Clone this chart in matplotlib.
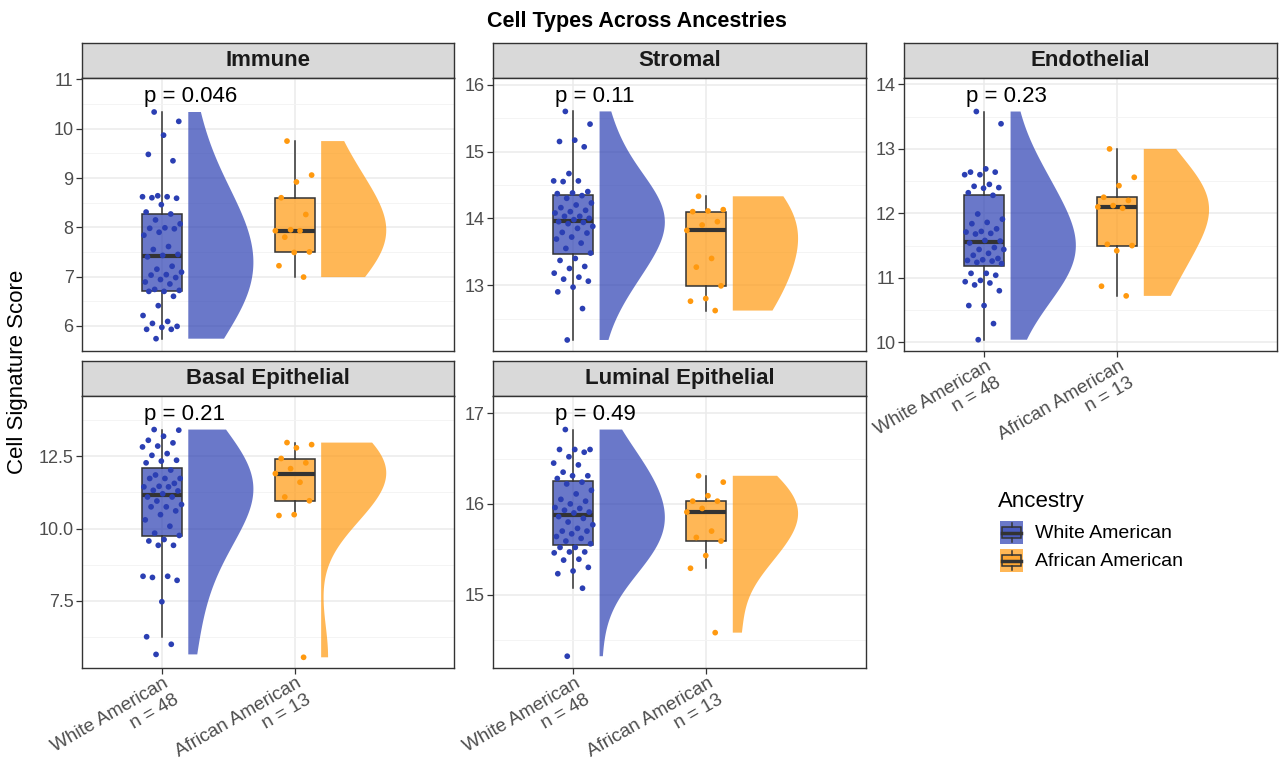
import matplotlib.pyplot as plt
import numpy as np
from matplotlib.colors import to_rgb
from matplotlib.patches import Rectangle
from matplotlib.lines import Line2D
from matplotlib.ticker import AutoMinorLocator, FormatStrFormatter
from matplotlib.transforms import blended_transform_factory

plt.rcParams['font.family'] = ['Liberation Sans', 'DejaVu Sans']

# ---- data ----
groups = ["White American", "African American"]
group_n = [48, 13]
panel_names = ["Immune", "Stromal", "Endothelial", "Basal Epithelial", "Luminal Epithelial"]
p_labels = ["p = 0.046", "p = 0.11", "p = 0.23", "p = 0.21", "p = 0.49"]

immune_white = [10.34, 10.15, 9.87, 9.48, 9.35, 8.64, 8.62, 8.62, 8.60, 8.59, 8.46, 8.31,
                8.27, 8.15, 8.07, 7.99, 7.98, 7.97, 7.90, 7.84, 7.61, 7.55, 7.45, 7.43,
                7.40, 7.21, 7.15, 7.09, 7.04, 7.03, 6.98, 6.94, 6.89, 6.85, 6.74, 6.72,
                6.70, 6.70, 6.60, 6.41, 6.21, 6.09, 6.05, 5.99, 5.97, 5.93, 5.93, 5.74]
immune_african = [9.75, 9.06, 8.92, 8.60, 8.26, 7.95, 7.93, 7.93, 7.80, 7.50, 7.49, 7.22, 6.99]

stromal_white = [15.60, 15.41, 15.17, 15.15, 15.07, 14.67, 14.56, 14.56, 14.55, 14.40, 14.38, 14.37,
                 14.34, 14.30, 14.23, 14.20, 14.16, 14.12, 14.10, 14.08, 14.03, 14.03, 14.00, 13.98,
                 13.95, 13.94, 13.92, 13.88, 13.85, 13.79, 13.78, 13.72, 13.69, 13.63, 13.55, 13.48,
                 13.40, 13.37, 13.28, 13.25, 13.18, 13.12, 13.09, 13.06, 12.97, 12.90, 12.65, 12.18]
stromal_african = [14.33, 14.13, 14.11, 14.10, 13.95, 13.90, 13.82, 13.40, 13.27, 12.99, 12.80, 12.76, 12.62]

endothelial_white = [13.58, 13.39, 12.69, 12.64, 12.64, 12.60, 12.60, 12.45, 12.42, 12.40, 12.39, 12.32,
                     12.28, 11.99, 11.91, 11.86, 11.84, 11.76, 11.72, 11.71, 11.69, 11.68, 11.57, 11.58,
                     11.54, 11.47, 11.44, 11.44, 11.38, 11.35, 11.30, 11.28, 11.27, 11.26, 11.24, 11.22,
                     11.07, 11.07, 11.04, 10.96, 10.94, 10.92, 10.89, 10.80, 10.57, 10.57, 10.29, 10.04]
endothelial_african = [13.00, 12.56, 12.43, 12.25, 12.20, 12.12, 12.10, 12.08, 11.52, 11.50, 11.42, 10.87, 10.72]

basal_white = [13.42, 13.40, 13.19, 13.05, 12.96, 12.85, 12.82, 12.59, 12.53, 12.36, 12.33, 12.27,
               12.02, 11.85, 11.73, 11.73, 11.73, 11.56, 11.46, 11.44, 11.44, 11.32, 11.30, 11.20,
               11.09, 11.09, 10.95, 10.83, 10.75, 10.75, 10.61, 10.48, 10.30, 10.08, 9.84, 9.76,
               9.62, 9.57, 9.42, 9.42, 8.35, 8.35, 8.31, 8.21, 7.47, 6.26, 6.00, 5.65]
basal_african = [12.97, 12.90, 12.79, 12.42, 12.27, 12.07, 11.90, 11.60, 11.09, 10.96, 10.48, 10.45, 5.55]

luminal_white = [16.82, 16.60, 16.60, 16.60, 16.57, 16.52, 16.45, 16.43, 16.35, 16.31, 16.31, 16.28,
                 16.24, 16.22, 16.15, 16.11, 16.05, 16.03, 16.00, 15.96, 15.95, 15.93, 15.91, 15.90,
                 15.86, 15.84, 15.80, 15.77, 15.73, 15.70, 15.70, 15.67, 15.64, 15.62, 15.59, 15.56,
                 15.52, 15.52, 15.47, 15.47, 15.46, 15.39, 15.38, 15.30, 15.26, 15.23, 15.07, 14.32]
luminal_african = [16.31, 16.24, 16.09, 16.03, 16.03, 15.95, 15.91, 15.70, 15.63, 15.59, 15.43, 15.29, 14.58]

panel_data = [
    (immune_white, immune_african),
    (stromal_white, stromal_african),
    (endothelial_white, endothelial_african),
    (basal_white, basal_african),
    (luminal_white, luminal_african),
]

# ---- layout / style ----
W, H = 1279, 769
COLORS = ["#2B3FB3", "#FF990F"]
COL_X = [(82, 454), (493, 866), (904, 1277)]
ROW_Y = [(43, 78, 351), (361, 396, 668)]
# (column, row, ylim, yticks, tick format, draw x axis)
PANEL_LAYOUT = [
    (0, 0, (5.49, 11.03), [6, 7, 8, 9, 10, 11], "%d", False),
    (1, 0, (12.015, 16.10), [13, 14, 15, 16], "%d", False),
    (2, 0, (9.865, 14.10), [10, 11, 12, 13, 14], "%d", True),
    (0, 1, (5.18, 14.58), [7.5, 10.0, 12.5], "%.1f", True),
    (1, 1, (14.19, 17.19), [15, 16, 17], "%d", True),
]
DARK = "#333333"
BW_ADJUST = 2.0
ANGLE = 30
LINE_STEP = 14.0  # pt between the two lines of an x label


def frac(x0, y0, x1, y1):
    return [x0 / W, 1 - y1 / H, (x1 - x0) / W, (y1 - y0) / H]


def nrd0(kde):
    # R's bw.nrd0, expressed as a factor of the sample sd
    x = kde.dataset.ravel()
    sd = x.std(ddof=1)
    q1, q3 = np.percentile(x, [25, 75])
    return BW_ADJUST * 0.9 * min(sd, (q3 - q1) / 1.34) / sd * len(x) ** -0.2


def jitter(n, width=0.15):
    return width * (2 * ((np.arange(n) * 0.618034 + 0.31) % 1.0) - 1)


fig = plt.figure(figsize=(W / 100, H / 100), dpi=100)

for name, pval, (white, african), (ci, ri, ylim, yticks, fmt, xaxis) in zip(
        panel_names, p_labels, panel_data, PANEL_LAYOUT):
    x0, x1 = COL_X[ci]
    s0, s1, p1 = ROW_Y[ri]

    # strip
    sax = fig.add_axes(frac(x0, s0, x1, s1))
    sax.set_facecolor("#D9D9D9")
    sax.set_xticks([])
    sax.set_yticks([])
    for sp in sax.spines.values():
        sp.set_color(DARK)
        sp.set_linewidth(1.0)
    sax.text(0.5, 0.5, name, ha="center", va="center", fontsize=16,
             fontweight="bold", color="#1A1A1A", transform=sax.transAxes)

    ax = fig.add_axes(frac(x0, s1, x1, p1))
    for pos, vals, color in zip([1, 2], [white, african], COLORS):
        vals = np.asarray(vals)
        vp = ax.violinplot([vals], positions=[pos + 0.2], widths=0.98, side="high",
                           showextrema=False, bw_method=nrd0, points=200)
        for body in vp["bodies"]:
            body.set_facecolor(color)
            body.set_edgecolor("none")
            body.set_alpha(0.7)
            body.set_zorder(2)
        ax.boxplot([vals], positions=[pos], widths=0.3, patch_artist=True,
                   showfliers=False, manage_ticks=False, zorder=3,
                   boxprops=dict(facecolor=(*to_rgb(color), 0.7),
                                 edgecolor=DARK, linewidth=1.1),
                   medianprops=dict(color=DARK, linewidth=3.0, solid_capstyle="butt"),
                   whiskerprops=dict(color=DARK, linewidth=1.1),
                   capprops=dict(linewidth=0))
        ax.scatter(pos + jitter(len(vals)), vals, s=17, color=color,
                   edgecolors="none", zorder=4)

    ax.set_xlim(0.4, 3.2)
    ax.set_ylim(*ylim)
    ax.set_yticks(yticks)
    ax.yaxis.set_major_formatter(FormatStrFormatter(fmt))
    ax.yaxis.set_minor_locator(AutoMinorLocator(2))
    ax.set_xticks([1, 2])
    ax.set_xticklabels([])
    ax.grid(True, which="major", color="#EBEBEB", linewidth=1.1)
    ax.grid(True, which="minor", axis="y", color="#F3F3F3", linewidth=0.6)
    ax.set_axisbelow(True)
    for sp in ax.spines.values():
        sp.set_color(DARK)
        sp.set_linewidth(1.0)
    ax.tick_params(axis="both", which="major", color=DARK, length=4, width=0.9,
                   labelsize=13, labelcolor="#4D4D4D", pad=2)
    ax.tick_params(axis="y", which="minor", length=0)
    if xaxis:
        # two-line rotated labels, right-aligned like ggplot's hjust = 1
        xtr = blended_transform_factory(ax.transData, ax.transAxes)
        sn, cs = np.sin(np.radians(ANGLE)), np.cos(np.radians(ANGLE))
        for pos, g, n in zip([1, 2], groups, group_n):
            for k, line in enumerate([g, f"n = {n}"]):
                ax.annotate(line, xy=(pos, 0), xycoords=xtr,
                            xytext=(k * LINE_STEP * sn + 1, -5 - k * LINE_STEP * cs),
                            textcoords="offset points", rotation=ANGLE,
                            rotation_mode="anchor", ha="right", va="top",
                            fontsize=13.6, color="#4D4D4D", annotation_clip=False)
    else:
        ax.tick_params(axis="x", length=0)

    tr = blended_transform_factory(ax.transData, ax.transAxes)
    ax.text(0.865, 0.933, pval, transform=tr, ha="left", va="center",
            fontsize=16, color="black")

# title and shared y label
fig.text(637 / W, 1 - 21.5 / H, "Cell Types Across Ancestries", ha="center",
         va="center", fontsize=15.5, fontweight="bold")
fig.text(18 / W, 1 - 372 / H, "Cell Signature Score", rotation=90, ha="center",
         va="center", fontsize=16)

# legend drawn in pixel coordinates
lax = fig.add_axes([0.76, 0.2, 0.2, 0.2])
lax.set_xlim(0.76 * W, 0.96 * W)
lax.set_ylim(0.8 * H, 0.6 * H)
lax.axis("off")
lax.text(998, 502, "Ancestry", ha="left", va="center", fontsize=16)
for i, (g, color) in enumerate(zip(groups, COLORS)):
    ky = 521 + i * 28
    lax.add_patch(Rectangle((1000, ky), 23, 23, facecolor=color, alpha=0.7,
                            edgecolor="none"))
    lax.add_patch(Rectangle((1002.3, ky + 5.75), 18.4, 11.5,
                            facecolor=(*to_rgb(color), 0.5),
                            edgecolor=DARK, linewidth=1.1))
    lax.add_line(Line2D([1002.3, 1020.7], [ky + 11.5, ky + 11.5], color=DARK, lw=2.5))
    lax.add_line(Line2D([1011.5, 1011.5], [ky + 2.3, ky + 5.75], color=DARK, lw=1.1))
    lax.add_line(Line2D([1011.5, 1011.5], [ky + 17.25, ky + 20.7], color=DARK, lw=1.1))
    lax.text(1035, ky + 12, g, ha="left", va="center", fontsize=14)

fig.savefig("out.png", dpi=100)
